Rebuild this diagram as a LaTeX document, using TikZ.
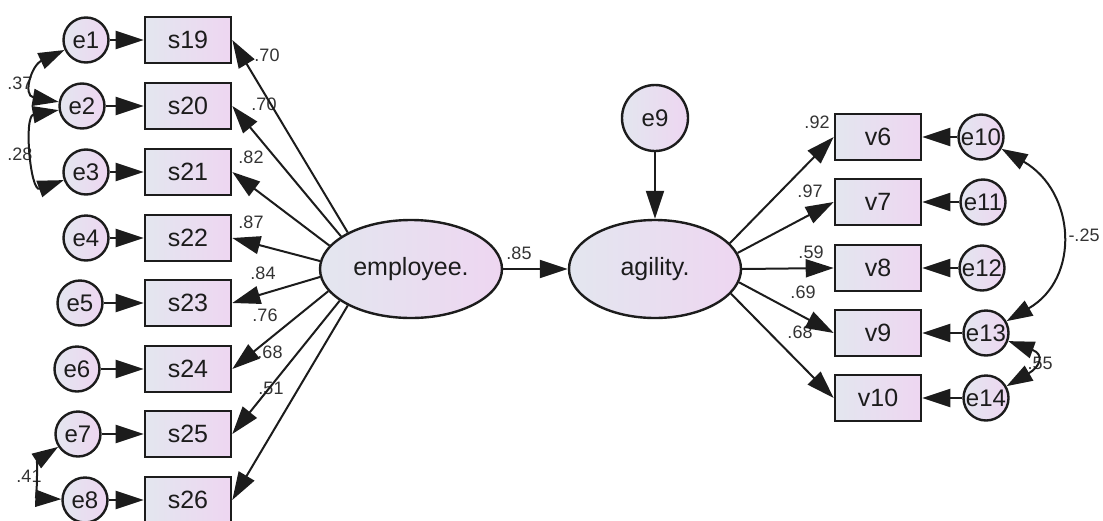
\documentclass[tikz,border=0pt]{standalone}
\usepackage{fontspec}
\setmainfont{Liberation Sans}
\usetikzlibrary{shapes.geometric,arrows.meta}
\definecolor{fillL}{HTML}{E3E6EF}
\definecolor{fillR}{HTML}{EED6F1}
\definecolor{ink}{HTML}{1C1C1C}
\tikzset{
	obs/.style={draw=ink,line width=1.3pt,rectangle,minimum width=43pt,minimum height=23pt,left color=fillL,right color=fillR,text=ink,font=\fontsize{12.5}{14}\selectfont},
	err/.style={draw=ink,line width=1.2pt,circle,inner sep=0pt,minimum size=22.5pt,left color=fillL,right color=fillR,text=ink,font=\fontsize{12}{14}\selectfont},
	lat/.style={draw=ink,line width=1.2pt,ellipse,minimum width=86pt,minimum height=49pt,left color=fillL,right color=fillR,text=ink,font=\fontsize{12.5}{14}\selectfont},
	coef/.style={inner sep=0pt,text=black!80,font=\fontsize{9}{10}\selectfont},
	reg/.style={color=ink,line width=1pt,-{Triangle[length=14pt,width=9pt]}},
	cov/.style={color=ink,line width=1pt,{Triangle[length=13pt,width=8.5pt]}-{Triangle[length=13pt,width=8.5pt]}}
}
\begin{document}
\begin{tikzpicture}[x=0.5pt,y=-0.5pt]
	\useasboundingbox (0,0) rectangle (1103,520);
	\node[obs] (s19) at (188,40) {s19};
	\node[obs] (s20) at (188,106) {s20};
	\node[obs] (s21) at (188,172) {s21};
	\node[obs] (s22) at (188,238) {s22};
	\node[obs] (s23) at (188,303) {s23};
	\node[obs] (s24) at (188,369) {s24};
	\node[obs] (s25) at (188,434) {s25};
	\node[obs] (s26) at (188,500) {s26};
	\node[err] (e1) at (86,40) {e1};
	\node[err] (e2) at (82,106) {e2};
	\node[err] (e3) at (86,172) {e3};
	\node[err] (e4) at (86,238) {e4};
	\node[err] (e5) at (80,303) {e5};
	\node[err] (e6) at (77,369) {e6};
	\node[err] (e7) at (78,434) {e7};
	\node[err] (e8) at (85,500) {e8};
	\node[lat] (emp) at (411,269) {employee.};
	\node[lat] (agil) at (655,269) {agility.};
	\node[err,minimum size=33pt] (e9) at (655,118) {e9};
	\node[obs] (v6) at (878,137) {v6};
	\node[obs] (v7) at (878,202) {v7};
	\node[obs] (v8) at (878,268) {v8};
	\node[obs] (v9) at (878,333) {v9};
	\node[obs] (v10) at (878,398) {v10};
	\node[err] (e10) at (981,137) {e10};
	\node[err] (e11) at (983,202) {e11};
	\node[err] (e12) at (982,268) {e12};
	\node[err] (e13) at (986,333) {e13};
	\node[err] (e14) at (986,398) {e14};
	\node[coef] (l19) at (267,55) {.70};
	\node[coef] (l20) at (264,104) {.70};
	\node[coef] (l21) at (251,157) {.82};
	\node[coef] (l22) at (251,222) {.87};
	\node[coef] (l23) at (263,273) {.84};
	\node[coef] (l24) at (265,315) {.76};
	\node[coef] (l25) at (270,352) {.68};
	\node[coef] (l26) at (271,388) {.51};
	\node[coef] (lea) at (519,253) {.85};
	\node[coef] (l6) at (817,122) {.92};
	\node[coef] (l7) at (810,191) {.97};
	\node[coef] (l8) at (811,252) {.59};
	\node[coef] (l9) at (803,292) {.69};
	\node[coef] (l10) at (800,332) {.68};
	\node[coef] (r1013) at (1084,235) {-.25};
	\node[coef] (r1314) at (1040,363) {.55};
	\node[coef] (r12) at (20,83) {.37};
	\node[coef] (r23) at (20,154) {.28};
	\node[coef] (r78) at (29,476) {.41};
	\path[reg]
	(e1) edge (s19) (e2) edge (s20) (e3) edge (s21) (e4) edge (s22)
	(e5) edge (s23) (e6) edge (s24) (e7) edge (s25) (e8) edge (s26)
	(emp.150) edge (s19.east) (emp.155) edge (s20.east)
	(emp.164) edge (s21.east) (emp.175) edge (s22.east)
	(emp.185) edge (s23.east) (emp.195) edge (s24.east)
	(emp.204) edge (s25.east) (emp.210) edge (s26.east)
	(emp) edge (agil) (e9) edge (agil)
	(agil.19) edge (v6.west) (agil.11) edge (v7.west)
	(agil.0) edge (v8.west) (agil.-9) edge (v9.west)
	(agil.-18) edge (v10.west)
	(e10) edge (v6) (e11) edge (v7) (e12) edge (v8)
	(e13) edge (v9) (e14) edge (v10);
	\path[cov]
	(e1) edge[out=205,in=170,looseness=1.8] (e2)
	(e2) edge[out=190,in=200,looseness=1.3] (e3)
	(e7) edge[out=213,in=178,looseness=1.2] (e8)
	(e10) edge[out=-30,in=30,looseness=1.27] (e13)
	(e13) edge[out=-20,in=30,looseness=2.2] (e14);
\end{tikzpicture}
\end{document}
